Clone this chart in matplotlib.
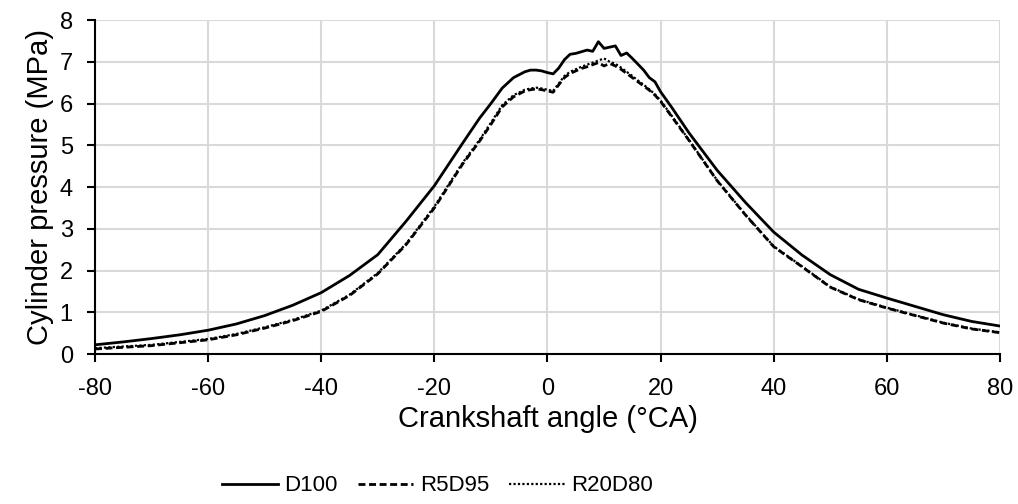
import matplotlib
matplotlib.use("Agg")
import matplotlib.pyplot as plt

plt.rcParams['font.family'] = ['Liberation Sans', 'DejaVu Sans']
plt.rcParams['axes.unicode_minus'] = False

# crank angle (°CA)
angle = [-80, -75, -70, -65, -60, -55, -50, -45, -40, -35, -30, -25, -20, -15,
         -12, -10, -8, -6, -4, -3, -2, -1, 0, 1, 2, 3, 4, 5, 6, 7, 8, 9, 10,
         11, 12, 13, 14, 15, 16, 17, 18, 19, 20, 22, 25, 30, 35, 40, 45, 50,
         55, 60, 65, 70, 75, 80]

d100 = [0.22, 0.29, 0.37, 0.46, 0.57, 0.72, 0.92, 1.17, 1.47, 1.88, 2.38, 3.18,
        4.03, 5.05, 5.65, 6.00, 6.37, 6.62, 6.76, 6.80, 6.80, 6.78, 6.74, 6.71,
        6.85, 7.05, 7.18, 7.20, 7.24, 7.28, 7.25, 7.48, 7.32, 7.35, 7.38, 7.15,
        7.21, 7.08, 6.94, 6.80, 6.62, 6.52, 6.28, 5.90, 5.30, 4.40, 3.63, 2.92,
        2.37, 1.90, 1.55, 1.34, 1.14, 0.94, 0.78, 0.67]

r5d95 = [0.12, 0.16, 0.20, 0.27, 0.34, 0.46, 0.62, 0.80, 1.02, 1.40, 1.92, 2.62,
         3.50, 4.55, 5.10, 5.50, 5.92, 6.16, 6.30, 6.33, 6.35, 6.33, 6.30, 6.27,
         6.45, 6.62, 6.72, 6.78, 6.84, 6.88, 6.93, 6.98, 6.90, 6.96, 6.90, 6.82,
         6.72, 6.62, 6.52, 6.42, 6.32, 6.20, 6.05, 5.68, 5.12, 4.15, 3.33, 2.57,
         2.09, 1.60, 1.30, 1.10, 0.92, 0.74, 0.60, 0.51]

r20d80 = [0.14, 0.18, 0.22, 0.29, 0.36, 0.48, 0.64, 0.82, 1.04, 1.42, 1.94, 2.64,
          3.53, 4.58, 5.13, 5.54, 5.96, 6.20, 6.33, 6.36, 6.38, 6.36, 6.33, 6.30,
          6.48, 6.66, 6.76, 6.82, 6.88, 6.93, 6.98, 7.03, 7.08, 7.00, 6.95, 6.86,
          6.76, 6.66, 6.55, 6.45, 6.34, 6.22, 6.07, 5.70, 5.13, 4.16, 3.34, 2.58,
          2.10, 1.61, 1.31, 1.11, 0.93, 0.75, 0.61, 0.52]

labels = ["D100", "R5D95", "R20D80"]

fig = plt.figure(figsize=(10.18, 5.04), dpi=100)
ax = fig.add_axes([0.0933, 0.2976, 0.8890, 0.6627])

ax.plot(angle, d100, color='black', lw=2.0, ls='-', label=labels[0])
ax.plot(angle, r5d95, color='black', lw=2.0, ls=(0, (2.5, 1.3)), label=labels[1])
ax.plot(angle, r20d80, color='black', lw=1.6, ls=(0, (1, 1)), label=labels[2])

ax.set_xlim(-80, 80)
ax.set_ylim(0, 8)
ax.set_xticks(range(-80, 81, 20))
ax.set_yticks(range(0, 9))
ax.grid(True, color='#d9d9d9', lw=1.5)
ax.set_axisbelow(True)

for s in ['top', 'right']:
    ax.spines[s].set_visible(False)
for s in ['left', 'bottom']:
    ax.spines[s].set_color('black')
    ax.spines[s].set_linewidth(1.5)

ax.tick_params(axis='both', labelsize=17, length=6, width=1.5, color='black',
               direction='out')
ax.tick_params(axis='x', pad=11)
ax.tick_params(axis='y', pad=10)
ax.set_xlabel("Crankshaft angle (°CA)", fontsize=21, labelpad=4)
ax.set_ylabel("Cylinder pressure (MPa)", fontsize=21, labelpad=4)

fig.legend(loc='center', bbox_to_anchor=(0.43, 0.036), ncol=3,
           frameon=False, fontsize=16, handlelength=2.5, handletextpad=0.3,
           columnspacing=0.9)

fig.savefig("out.png", dpi=100)
